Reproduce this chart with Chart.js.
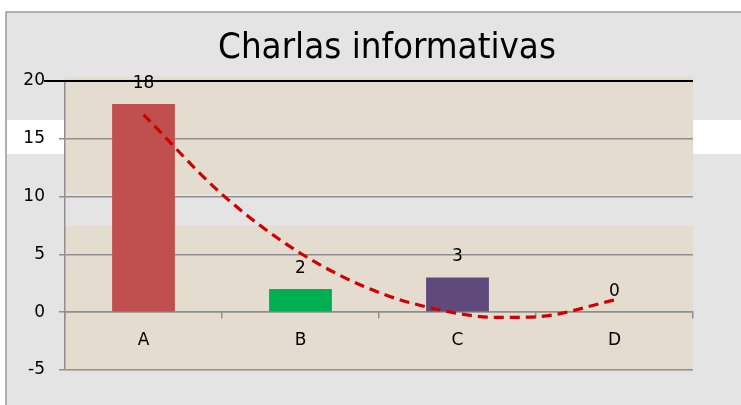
<!DOCTYPE html>
<html><head><meta charset="utf-8">
<script src="https://cdn.jsdelivr.net/npm/chart.js@4"></script>
<style>html,body{margin:0;padding:0;background:#fff}#wrap{width:741px;height:405px}</style>
</head><body><div id="wrap"><canvas id="c" width="741" height="405"></canvas></div>
<script>
const titleText = "Charlas informativas";
const categories = ["A", "B", "C", "D"];
const values = [18, 2, 3, 0];
const barColors = ["#C0504D", "#00B050", "#604A7B", "#4BACC6"];
const trendX = [1, 1.5, 2, 2.5, 3, 3.25, 3.5, 4];
const trendY = [17.1, 10.2, 5.1, 1.7, -0.1, -0.45, -0.4, 1.05];
const yTicks = [-5, 0, 5, 10, 15, 20];

const bgPlugin = {
  id: 'bg',
  beforeDraw(chart) {
    const ctx = chart.ctx, a = chart.chartArea;
    ctx.save();
    ctx.fillStyle = '#ffffff';
    ctx.fillRect(0, 0, 741, 405);
    ctx.fillStyle = '#E4E4E4';
    ctx.fillRect(6, 12, 741, 405);
    ctx.strokeStyle = '#9A9A9A';
    ctx.lineWidth = 1.5;
    ctx.beginPath();
    ctx.moveTo(6, 405); ctx.lineTo(6, 12); ctx.lineTo(741, 12);
    ctx.stroke();
    ctx.fillStyle = '#FFFFFF';
    ctx.fillRect(7, 120, a.left - 7, 34);
    ctx.fillRect(a.right, 120, 741 - a.right, 34);
    ctx.fillStyle = '#E5DCD0';
    ctx.fillRect(a.left, 77, a.right - a.left, 372 - 77);
    ctx.fillStyle = '#E4E4E4';
    ctx.fillRect(a.left, 194, a.right - a.left, 32);
    ctx.restore();
  },
  afterDraw(chart) {
    const ctx = chart.ctx, a = chart.chartArea;
    const ys = chart.scales.y;
    ctx.save();
    ctx.strokeStyle = '#000000';
    ctx.lineWidth = 2;
    const y20 = ys.getPixelForValue(20);
    ctx.beginPath(); ctx.moveTo(44, y20); ctx.lineTo(a.right, y20); ctx.stroke();
    let fs = 36;
    const fam = '"Liberation Sans Narrow", "DejaVu Sans Condensed", "DejaVu Sans", sans-serif';
    ctx.font = fs + 'px ' + fam;
    let w = ctx.measureText(titleText).width;
    fs = fs * 338 / w;
    ctx.font = fs + 'px ' + fam;
    ctx.fillStyle = '#000';
    ctx.textAlign = 'center';
    ctx.textBaseline = 'alphabetic';
    ctx.fillText(titleText, 387, 58);
    const meta = chart.getDatasetMeta(0);
    ctx.font = '17px "DejaVu Sans", sans-serif';
    ctx.textBaseline = 'middle';
    meta.data.forEach((bar, i) => {
      ctx.fillText(String(values[i]), bar.x, bar.y - 21);
    });
    ctx.restore();
  }
};

new Chart(document.getElementById('c'), {
  data: {
    labels: categories,
    datasets: [
      {
        type: 'bar',
        data: values,
        backgroundColor: barColors,
        borderWidth: 0,
        barPercentage: 0.4,
        categoryPercentage: 1.0,
        grouped: false,
        order: 2
      },
      {
        type: 'line',
        xAxisID: 'xt',
        data: trendX.map((x, i) => ({ x: x, y: trendY[i] })),
        borderColor: '#D00000',
        borderWidth: 3.2,
        borderDash: [10, 6],
        pointRadius: 0,
        cubicInterpolationMode: 'monotone',
        fill: false,
        order: 1
      }
    ]
  },
  options: {
    responsive: false,
    animation: false,
    layout: { padding: { left: 0, right: 48, top: 81, bottom: 35 } },
    plugins: { legend: { display: false }, tooltip: { enabled: false }, title: { display: false } },
    scales: {
      x: {
        type: 'category',
        position: { y: 0 },
        offset: true,
        grid: { display: true, offset: true, drawOnChartArea: false, drawTicks: true, tickLength: 6, color: '#8E8E8E', lineWidth: 1.5 },
        border: { display: true, color: '#8E8E8E', width: 1.5 },
        ticks: { color: '#000', font: { family: '"DejaVu Sans", sans-serif', size: 17 }, padding: 12 }
      },
      xt: {
        type: 'linear',
        display: false,
        min: 0.5,
        max: 4.5
      },
      y: {
        type: 'linear',
        min: -5,
        max: 20,
        afterFit(scale) { scale.width = 65; },
        afterBuildTicks(scale) { scale.ticks = yTicks.map(v => ({ value: v })); },
        grid: {
          color: ctx => (ctx.tick && ctx.tick.value === 20) ? 'rgba(0,0,0,0)' : '#8E8E8E',
          lineWidth: 1.5,
          tickLength: 6
        },
        border: { display: true, color: '#8E8E8E', width: 1.5 },
        ticks: { color: '#000', font: { family: '"DejaVu Sans", sans-serif', size: 17 }, padding: 14, stepSize: 5 }
      }
    }
  },
  plugins: [bgPlugin]
});
</script>
</body></html>
